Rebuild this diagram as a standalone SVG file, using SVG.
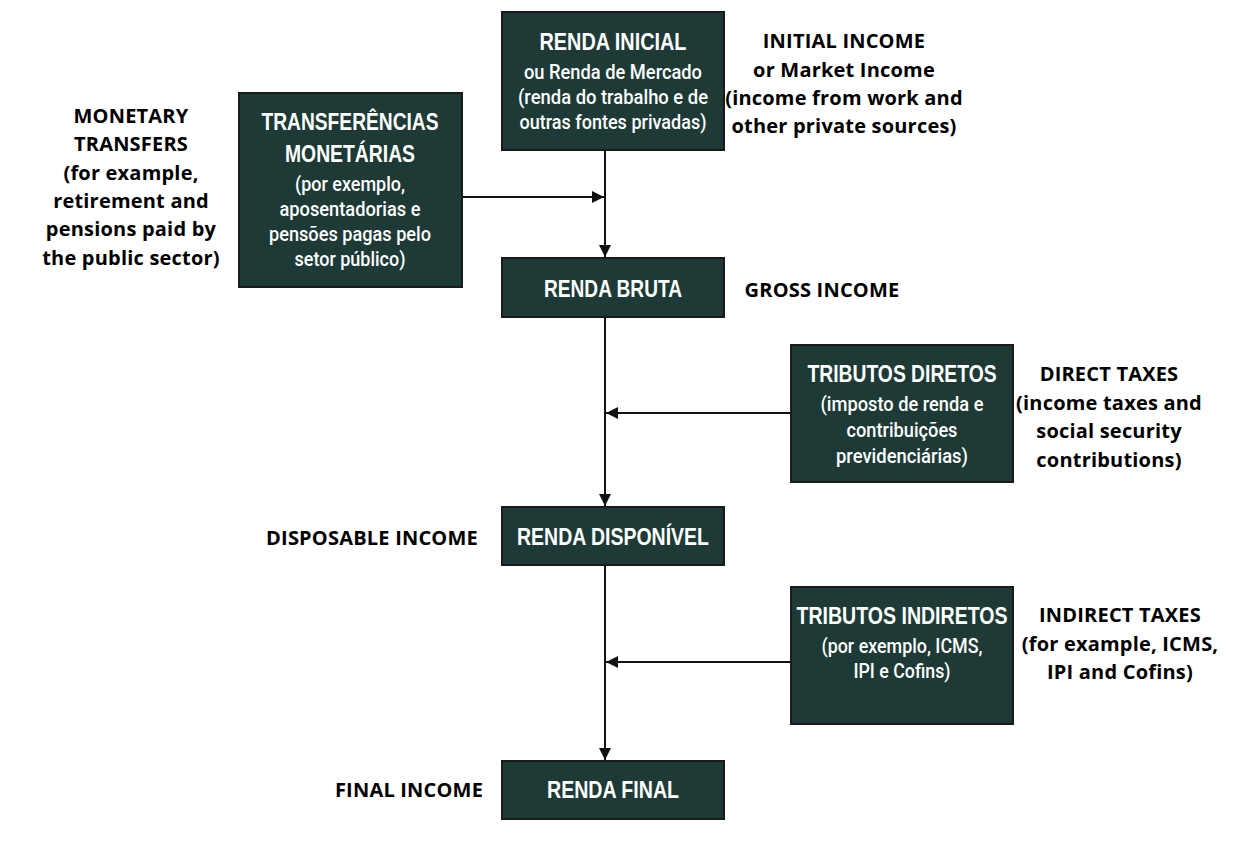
<svg xmlns="http://www.w3.org/2000/svg" width="1237" height="841" viewBox="0 0 1237 841">
<style>
.box{fill:#1e3a36;stroke:#1a1a1a;stroke-width:2}
.t{font-family:"Liberation Sans",Arial,sans-serif;font-weight:bold;font-size:24px;fill:#fff;text-anchor:middle}
.s{font-family:Roboto,"Liberation Sans",Arial,sans-serif;font-weight:500;font-size:20px;fill:#fff;text-anchor:middle}
.e{font-family:"Open Sans","Liberation Sans",sans-serif;font-weight:bold;font-size:20px;letter-spacing:0.2px;fill:#000;text-anchor:middle}
.c{stroke:#111;stroke-width:2;fill:none}
</style>
<defs>
<marker id="ah" markerUnits="userSpaceOnUse" markerWidth="14" markerHeight="14" refX="12" refY="6" orient="auto">
<path d="M0,0 L12,6 L0,12 z" fill="#111"/>
</marker>
</defs>
<rect width="1237" height="841" fill="#fff"/>
<g id="connectors">
<line class="c" x1="605" y1="150" x2="605" y2="257" marker-end="url(#ah)"/>
<line class="c" x1="462" y1="197" x2="604" y2="197" marker-end="url(#ah)"/>
<line class="c" x1="605" y1="317" x2="605" y2="506" marker-end="url(#ah)"/>
<line class="c" x1="791" y1="413" x2="606" y2="413" marker-end="url(#ah)"/>
<line class="c" x1="605" y1="565" x2="605" y2="760" marker-end="url(#ah)"/>
<line class="c" x1="791" y1="662" x2="606" y2="662" marker-end="url(#ah)"/>
</g>
<g id="renda-inicial">
<rect class="box" x="502" y="12" width="222" height="138"/>
<text class="t" x="613" y="50" textLength="147" lengthAdjust="spacingAndGlyphs">RENDA INICIAL</text>
<text class="s" x="613" y="79" textLength="178" lengthAdjust="spacingAndGlyphs">ou Renda de Mercado</text>
<text class="s" x="613" y="104" textLength="190" lengthAdjust="spacingAndGlyphs">(renda do trabalho e de</text>
<text class="s" x="613" y="129" textLength="187" lengthAdjust="spacingAndGlyphs">outras fontes privadas)</text>
</g>
<g id="transferencias">
<rect class="box" x="239" y="93" width="223" height="194"/>
<text class="t" x="350" y="130" textLength="177" lengthAdjust="spacingAndGlyphs">TRANSFERÊNCIAS</text>
<text class="t" x="350" y="162" textLength="130" lengthAdjust="spacingAndGlyphs">MONETÁRIAS</text>
<text class="s" x="350" y="191" textLength="110" lengthAdjust="spacingAndGlyphs">(por exemplo,</text>
<text class="s" x="350" y="216" textLength="141" lengthAdjust="spacingAndGlyphs">aposentadorias e</text>
<text class="s" x="350" y="241" textLength="162" lengthAdjust="spacingAndGlyphs">pensões pagas pelo</text>
<text class="s" x="350" y="266" textLength="111" lengthAdjust="spacingAndGlyphs">setor público)</text>
</g>
<g id="renda-bruta">
<rect class="box" x="502" y="258" width="222" height="59"/>
<text class="t" x="613" y="297" textLength="138" lengthAdjust="spacingAndGlyphs">RENDA BRUTA</text>
</g>
<g id="tributos-diretos">
<rect class="box" x="791" y="345" width="222" height="137"/>
<text class="t" x="902" y="382" textLength="189" lengthAdjust="spacingAndGlyphs">TRIBUTOS DIRETOS</text>
<text class="s" x="902" y="411" textLength="163" lengthAdjust="spacingAndGlyphs">(imposto de renda e</text>
<text class="s" x="902" y="437" textLength="111" lengthAdjust="spacingAndGlyphs">contribuições</text>
<text class="s" x="902" y="463" textLength="132" lengthAdjust="spacingAndGlyphs">previdenciárias)</text>
</g>
<g id="renda-disponivel">
<rect class="box" x="502" y="507" width="222" height="58"/>
<text class="t" x="613" y="545" textLength="192" lengthAdjust="spacingAndGlyphs">RENDA DISPONÍVEL</text>
</g>
<g id="tributos-indiretos">
<rect class="box" x="791" y="587" width="222" height="137"/>
<text class="t" x="902" y="624" textLength="211" lengthAdjust="spacingAndGlyphs">TRIBUTOS INDIRETOS</text>
<text class="s" x="902" y="653" textLength="161" lengthAdjust="spacingAndGlyphs">(por exemplo, ICMS,</text>
<text class="s" x="902" y="678" textLength="97" lengthAdjust="spacingAndGlyphs">IPI e Cofins)</text>
</g>
<g id="renda-final">
<rect class="box" x="502" y="761" width="222" height="58"/>
<text class="t" x="613" y="798" textLength="132" lengthAdjust="spacingAndGlyphs">RENDA FINAL</text>
</g>
<g id="label-initial-income">
<text class="e" x="844" y="48">INITIAL INCOME</text>
<text class="e" x="844" y="77">or Market Income</text>
<text class="e" x="844" y="105">(income from work and</text>
<text class="e" x="844" y="133">other private sources)</text>
</g>
<g id="label-monetary-transfers">
<text class="e" x="131" y="123">MONETARY</text>
<text class="e" x="131" y="151">TRANSFERS</text>
<text class="e" x="131" y="180">(for example,</text>
<text class="e" x="131" y="208">retirement and</text>
<text class="e" x="131" y="236">pensions paid by</text>
<text class="e" x="131" y="265">the public sector)</text>
</g>
<g id="label-gross-income">
<text class="e" x="822" y="297">GROSS INCOME</text>
</g>
<g id="label-direct-taxes">
<text class="e" x="1109" y="381">DIRECT TAXES</text>
<text class="e" x="1109" y="410">(income taxes and</text>
<text class="e" x="1109" y="438">social security</text>
<text class="e" x="1109" y="467">contributions)</text>
</g>
<g id="label-disposable-income">
<text class="e" x="372" y="545">DISPOSABLE INCOME</text>
</g>
<g id="label-indirect-taxes">
<text class="e" x="1120" y="622">INDIRECT TAXES</text>
<text class="e" x="1120" y="651">(for example, ICMS,</text>
<text class="e" x="1120" y="679">IPI and Cofins)</text>
</g>
<g id="label-final-income">
<text class="e" x="409" y="797">FINAL INCOME</text>
</g>
</svg>
